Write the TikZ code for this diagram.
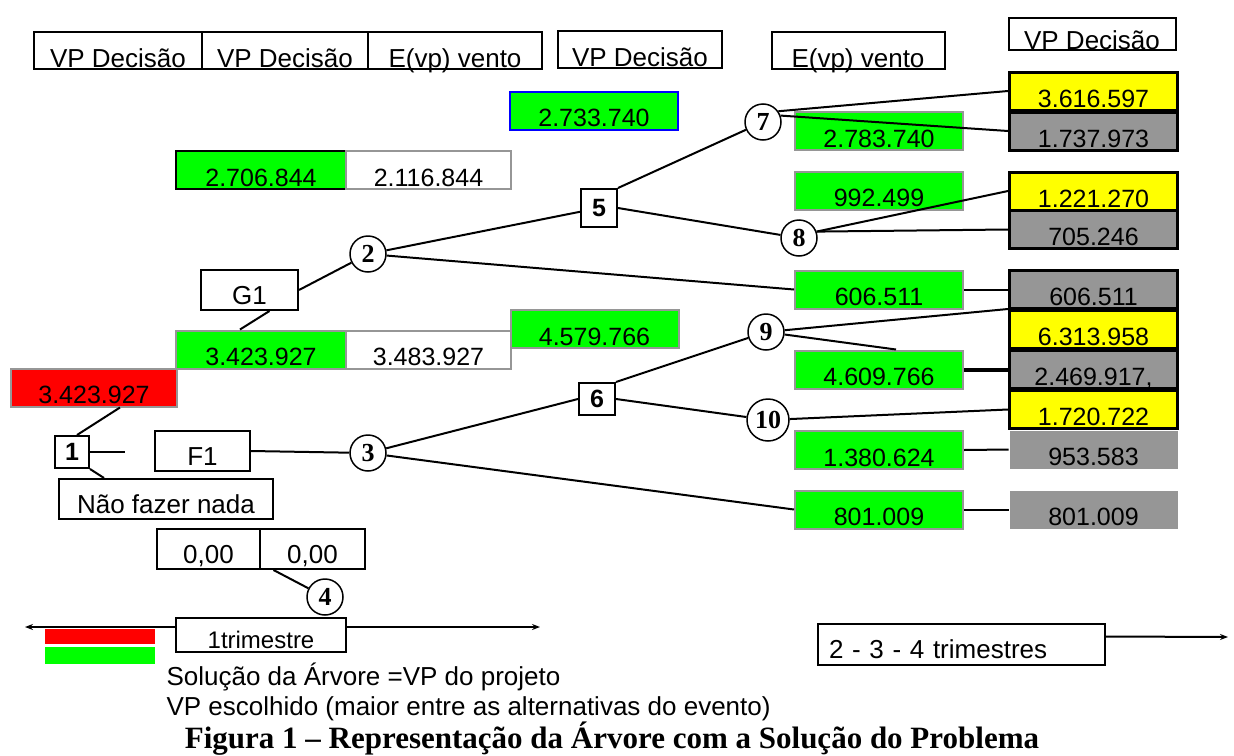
\documentclass[tikz,border=0pt]{standalone}
\usepackage{fontspec}
\setmainfont{Liberation Sans}
\newfontfamily\capfont{Liberation Serif}
\usepackage{tikz}
\usetikzlibrary{arrows.meta}

\definecolor{vverde}{RGB}{0,255,0}
\definecolor{vcinza}{RGB}{150,150,150}
\definecolor{vamarelo}{RGB}{255,255,0}
\definecolor{vvermelho}{RGB}{255,0,0}
\definecolor{vazul}{RGB}{0,0,255}

\tikzset{
	caixa/.style={draw, rectangle, line width=2, inner sep=0, font=\fontsize{26}{26}\selectfont},
	celula/.style={caixa, minimum width=168, minimum height=38, text height=32, text depth=0, font=\fontsize{25}{25}\selectfont},
	cabec/.style={caixa, minimum height=37, text height=35, text depth=0},
	rotulo/.style={caixa, minimum height=40, text height=28, text depth=0},
	verde/.style={celula, fill=vverde, draw=vcinza},
	branco/.style={celula, fill=white, draw=vcinza},
	amarelo/.style={celula, fill=vamarelo, line width=3},
	cinza/.style={celula, fill=vcinza, line width=3},
	cinzalivre/.style={celula, fill=vcinza, draw=none},
	decisao/.style={draw, rectangle, line width=2, fill=white, minimum width=34, minimum height=32, inner sep=0, font=\bfseries\fontsize{25}{25}\selectfont},
	acaso/.style={draw, circle, line width=1.5, fill=white, minimum size=36, inner sep=0, font=\capfont\bfseries\fontsize{26}{26}\selectfont},
	ramo/.style={line width=2}
}

\begin{document}
\begin{tikzpicture}[x=1pt, y=-1pt]
	\useasboundingbox (0,0) rectangle (1234,755);
	
	% cabecalho
	\node[cabec, minimum width=168] (h1) at (118,50) {VP Decisão};
	\node[cabec, minimum width=166] (h2) at (285,50) {VP Decisão};
	\node[cabec, minimum width=174] (h3) at (455,50) {E(vp) vento};
	\node[cabec, minimum width=164] (h4) at (640,49) {VP Decisão};
	\node[cabec, minimum width=173] (h5) at (858,50) {E(vp) vento};
	\node[cabec, minimum width=167, minimum height=32, text height=30] (h6) at (1092,34) {VP Decisão};
	
	% valores do lado esquerdo
	\node[verde, draw=vazul] (vp5) at (594,110.5) {2.733.740};
	\node[verde, draw=black, minimum width=170] (vp2) at (261,170) {2.706.844};
	\node[branco, minimum width=165] (ev2) at (428.5,170) {2.116.844};
	\node[verde, minimum width=170] (vpG) at (261,349.5) {3.423.927};
	\node[branco, minimum width=165] (evG) at (428.5,349.5) {3.483.927};
	\node[verde] (vp6) at (594.5,329) {4.579.766};
	\node[celula, fill=vvermelho, draw=vcinza, minimum width=166] (raiz) at (94,387.5) {3.423.927};
	
	% valores do lado direito
	\node[verde] (vp7) at (879,131) {2.783.740};
	\node[verde] (vp8) at (879,190.5) {992.499};
	\node[verde] (vp2b) at (879,289.5) {606.511};
	\node[verde] (vp9) at (879,369.5) {4.609.766};
	\node[verde] (vp10) at (879,450) {1.380.624};
	\node[verde] (vp3) at (879,509.5) {801.009};
	
	\node[amarelo] (a1) at (1093.5,91) {3.616.597};
	\node[cinza] (c1) at (1093.5,131) {1.737.973};
	\node[amarelo] (a2) at (1093.5,191) {1.221.270};
	\node[cinza] (c2) at (1093.5,229.5) {705.246};
	\node[cinza] (c3) at (1093.5,289.5) {606.511};
	\node[amarelo] (a3) at (1093.5,329.5) {6.313.958};
	\node[cinza] (c4) at (1093.5,369.5) {2.469.917,};
	\node[amarelo] (a4) at (1093.5,409.5) {1.720.722};
	\node[cinzalivre] (c5) at (1093.5,449.5) {953.583};
	\node[cinzalivre] (c6) at (1093.5,509.5) {801.009};
	
	% alternativas
	\node[rotulo, minimum width=97] (g1) at (249.5,290) {G1};
	\node[rotulo, minimum width=95] (f1) at (202.5,451) {F1};
	\node[rotulo, minimum width=214] (nada) at (166,499) {Não fazer nada};
	\node[rotulo, minimum width=103] (z1) at (208.5,549) {0,00};
	\node[rotulo, minimum width=105] (z2) at (312.5,549) {0,00};
	
	% nos
	\node[decisao] (n1) at (72,452) {1};
	\node[decisao, minimum width=36, minimum height=38] (n5) at (599,208) {5};
	\node[decisao, minimum width=36] (n6) at (597,399) {6};
	\node[acaso] (n2) at (368,254) {2};
	\node[acaso] (n3) at (368,453) {3};
	\node[acaso] (n4) at (325,597) {4};
	\node[acaso] (n7) at (763,122) {7};
	\node[acaso] (n8) at (799,238) {8};
	\node[acaso] (n9) at (766,332) {9};
	\node[acaso, minimum size=42] (n10) at (768,420) {10};
	\coordinate (f1ponta) at (125,452);
	
	% ramos
	\draw[ramo] ([xshift=26]raiz.south) -- ([xshift=5]n1.north);
	\draw[ramo] ([xshift=-21]vpG.north) -- ([xshift=20]g1.south);
	\draw[ramo] (g1.east) -- (n2);
	\draw[ramo] (n2) -- (n5);
	\draw[ramo] (n2) -- (vp2b.west);
	\draw[ramo] (n5.north east) -- (n7);
	\draw[ramo] (n5.east) -- (n8);
	\draw[ramo] (n7.35) -- (a1.west);
	\draw[ramo] (n7.20) -- (c1.west);
	\draw[ramo] (n8.20) -- (a2.west);
	\draw[ramo] (n8.20) -- (c2.west);
	\draw[ramo] (vp2b.east) -- (c3.west);
	\draw[ramo] (n1.east) -- (f1ponta);
	\draw[ramo] (f1.east) -- (n3);
	\draw[ramo] (n1.south east) -- ([xshift=46]nada.north west);
	\draw[ramo] ([xshift=-39]z2.south) -- (n4);
	\draw[ramo] (n3) -- (n6.west);
	\draw[ramo] (n3) -- (vp3.west);
	\draw[ramo] (n6.north east) -- (n9);
	\draw[ramo] (n6.east) -- (n10);
	\draw[ramo] (n9) -- (a3.north west);
	\draw[ramo] (n9) -- ([xshift=17]vp9.north);
	\draw[line width=4] (vp9.east) -- (c4.west);
	\draw[ramo] (n10) -- (a4.west);
	\draw[ramo] (vp10.east) -- (c5.west);
	\draw[ramo] (vp3.east) -- (c6.west);
	
	% linha do tempo
	\coordinate (t0) at (25,627);
	\coordinate (t1) at (540,627);
	\coordinate (t2) at (1228,637);
	\draw[ramo, {Stealth[length=8pt,width=6pt]}-{Stealth[length=8pt,width=6pt]}] (t0) -- (t1);
	\node[rotulo, fill=white, minimum width=170, minimum height=34, text height=26, font=\fontsize{24}{24}\selectfont] (tri1) at (261,635) {1trimestre};
	\node[rotulo, minimum width=287, minimum height=41, text width=265, align=left] (tri2) at (961.5,644.5) {2 - 3 - 4 trimestres};
	\draw[ramo, -{Stealth[length=8pt,width=6pt]}] ([yshift=8]tri2.east) -- (t2);
	
	% legenda
	\fill[vvermelho] (45,629) rectangle (155,644);
	\fill[vverde] (45,647) rectangle (155,664);
	\node[anchor=west, font=\fontsize{26}{26}\selectfont] (leg1) at (163,677) {Solução da Árvore =VP do projeto};
	\node[anchor=west, font=\fontsize{26}{26}\selectfont] (leg2) at (163,709) {VP escolhido (maior entre as alternativas do evento)};
	\node[font=\capfont\bfseries\fontsize{31}{31}\selectfont] (fig) at (612,739) {Figura 1 – Representação da Árvore com a Solução do Problema};
\end{tikzpicture}
\end{document}
